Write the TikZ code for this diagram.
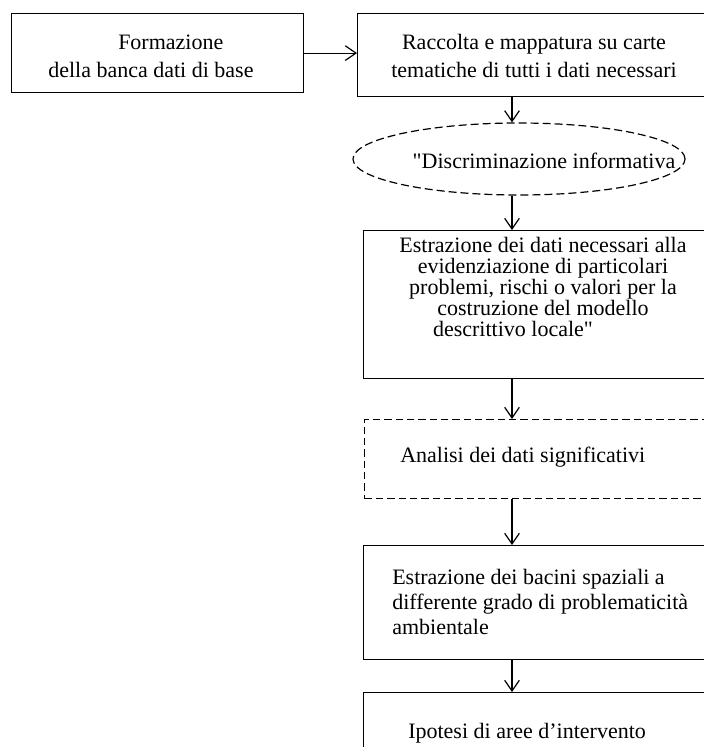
\documentclass[tikz,border=0pt]{standalone}
\usepackage{fontspec}
\setmainfont{Liberation Serif}[Ligatures=TeXOff]
\usetikzlibrary{arrows.meta,shapes.geometric}
\begin{document}
\begin{tikzpicture}[x=0.75pt,y=-0.75pt,
  every node/.style={font=\fontsize{16.5}{21}\selectfont},
  box/.style={draw,line width=0.9pt,anchor=north west,inner sep=0pt},
  dbox/.style={box,dash pattern=on 5.5pt off 3pt},
  txt/.style={inner sep=0pt},
  arr/.style={-{Straight Barb[length=8pt,width=11pt]},line width=0.9pt}]
\useasboundingbox (0,0) rectangle (704,747);
\clip (0,0) rectangle (704,747);
\coordinate (col) at (512,0);
% Top row
\node[box,minimum width=219pt,minimum height=59.25pt] (form) at (11,13) {};
\node[txt,anchor=west,align=left] (formtxt) at (48,56) {\hspace*{52.5pt}Formazione\\della banca dati di base};
\node[box,minimum width=317.25pt,minimum height=62.25pt] (racc) at (357,13) {};
\node[txt,align=center] (racctxt) at (534,56) {Raccolta e mappatura su carte\\tematiche di tutti i dati necessari};
\draw[arr] (form.east) -- (form.east -| racc.west);
% Discriminazione
\node[draw,ellipse,line width=0.9pt,dash pattern=on 6pt off 3pt,inner sep=0pt,minimum width=249pt,minimum height=54pt] (discr) at (519,159) {};
\node[txt] (discrtxt) at (544,161) {"Discriminazione informativa};
\draw[arr] (racc.south -| col) -- (discr.north -| col);
\node[box,minimum width=312.75pt,minimum height=111pt] (estr) at (363,230) {};
\node[txt,align=center,font=\fontsize{16.5}{15.75}\selectfont] (estrtxt) at (543,287) {Estrazione dei dati necessari alla\\evidenziazione di particolari\\problemi, rischi o valori per la\\costruzione del modello\hspace*{27pt}\\descrittivo locale"\hspace*{45pt}};
\draw[arr] (discr.south -| col) -- (estr.north -| col);
% Analisi
\node[dbox,minimum width=312pt,minimum height=59.25pt] (anal) at (364,419) {};
\node[txt,anchor=west] (analtxt) at (400,457) {Analisi dei dati significativi};
\draw[arr] (estr.south -| col) -- (anal.north -| col);
% Bacini
\node[box,minimum width=312.75pt,minimum height=85.5pt] (bac) at (363,545) {};
\node[txt,anchor=west,align=left,font=\fontsize{16.5}{18.75}\selectfont] (bactxt) at (392,602) {Estrazione dei bacini spaziali a\\differente grado di problematicità\\ambientale};
\draw[arr] (anal.south -| col) -- (bac.north -| col);
% Ipotesi
\node[box,minimum width=312.75pt,minimum height=75pt] (ipot) at (363,692) {};
\node[txt,anchor=west] (ipottxt) at (408,733) {Ipotesi di aree d’intervento};
\draw[arr] (bac.south -| col) -- (ipot.north -| col);
\end{tikzpicture}
\end{document}
